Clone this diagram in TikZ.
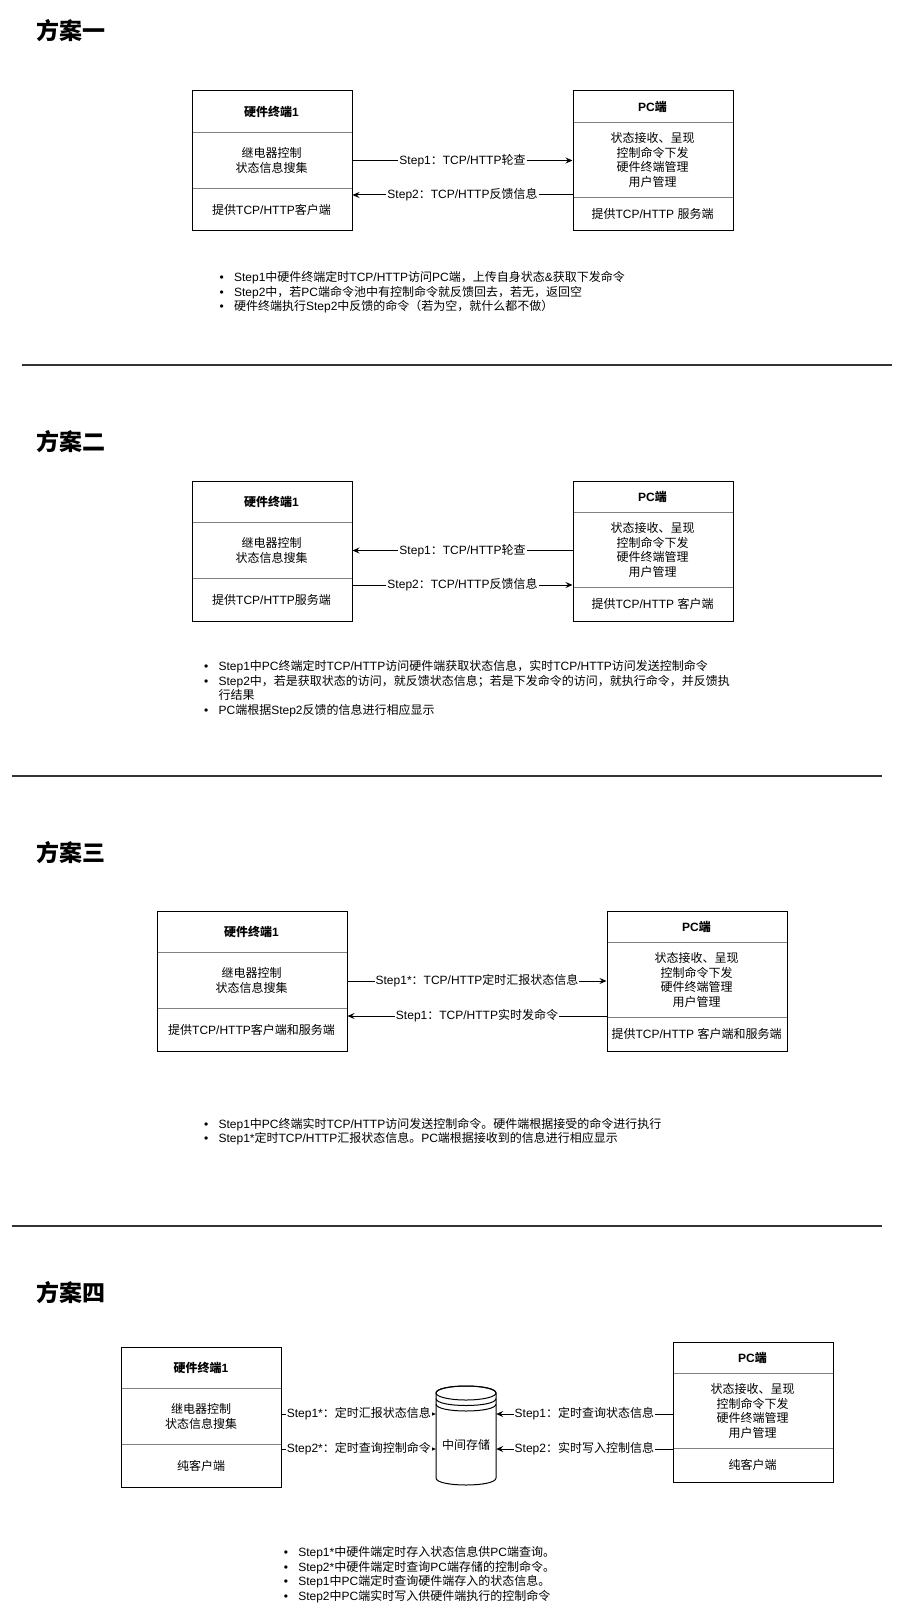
\documentclass[tikz,border=0pt]{standalone}
\usepackage{fontspec}
\usetikzlibrary{arrows.meta}
\setmainfont{Liberation Sans}
\newfontfamily\latfont{Liberation Sans}
\newfontfamily\cjkfont{Noto Sans CJK SC}
\XeTeXinterchartokenstate=1
\newXeTeXintercharclass\cjkcls
\makeatletter
\count@="4E00
\loop\XeTeXcharclass\count@=\cjkcls\ifnum\count@<"9FFF\advance\count@\@ne\repeat
\count@="3000
\loop\XeTeXcharclass\count@=\cjkcls\ifnum\count@<"303F\advance\count@\@ne\repeat
\count@="FF01
\loop\XeTeXcharclass\count@=\cjkcls\ifnum\count@<"FF5E\advance\count@\@ne\repeat
\makeatother
\XeTeXinterchartoks 0 \cjkcls = {\cjkfont}
\XeTeXinterchartoks 4095 \cjkcls = {\cjkfont}
\XeTeXinterchartoks \cjkcls 0 = {\latfont}
\XeTeXinterchartoks 4095 0 = {\latfont}
\newcommand\bul{\makebox[14.5pt][l]{•}}
\newcommand\tribox[8]{%
  \if#5L\def\hA{42}\def\hB{56}\else\def\hA{32}\def\hB{75}\fi
  \draw[divider] (#2,#3+\hA) -- (#2+#4,#3+\hA);
  \draw[divider] (#2,#3+\hA+\hB) -- (#2+#4,#3+\hA+\hB);
  \node[frame, minimum width=#4pt, minimum height=140pt] (#1) at (#2,#3) {};
  \node[hdr] (#1-h) at (#2+#4/2,#3+\hA/2) {#6};
  \node[txt] (#1-m) at (#2+#4/2,#3+\hA+\hB/2) {#7};
  \node[txt] (#1-b) at (#2+#4/2,{#3+\hA+\hB+(140-\hA-\hB)/2}) {#8};
}
\begin{document}
\begin{tikzpicture}[x=1pt,y=-1pt,
  txt/.style={font=\fontsize{12}{14.4}\selectfont, inner sep=0pt, align=center},
  hdr/.style={txt, font=\fontsize{12}{14.4}\selectfont\bfseries},
  frame/.style={draw=black, line width=1pt, rectangle, inner sep=0pt, anchor=north west},
  divider/.style={draw=black!50, line width=1pt},
  conn/.style={draw=black, line width=1pt, -{Stealth[length=7pt,width=6pt,inset=2.5pt]}},
  lbl/.style={txt, fill=white, inner sep=1pt},
  title/.style={font=\fontsize{23}{27}\selectfont\bfseries, inner sep=0pt, anchor=west},
  sep/.style={line width=2pt, draw=black!80},
  blist/.style={txt, align=left, anchor=north west},
  cyl/.style={draw=black, line width=1pt}
]
\fill[white] (0,0) rectangle (902,1621);
\useasboundingbox (0,0) rectangle (902,1621);

% ---------------- 方案一
\node[title] (t1) at (36,31) {方案一};
\tribox{hw1}{191.5}{90.5}{160}{L}{硬件终端1}{继电器控制\\状态信息搜集}{提供TCP/HTTP客户端}
\tribox{pc1}{572.5}{90.5}{160}{R}{PC端}{状态接收、呈现\\控制命令下发\\硬件终端管理\\用户管理}{提供TCP/HTTP 服务端}
\draw[conn] (hw1.east |- 0,160.5) -- (pc1.west |- 0,160.5) node[lbl, midway] {Step1：TCP/HTTP轮查};
\draw[conn] (pc1.west |- 0,195) -- (hw1.east |- 0,195) node[lbl, midway] {Step2：TCP/HTTP反馈信息};
\node[blist] (b1) at (219.4,271.4) {\bul Step1中硬件终端定时TCP/HTTP访问PC端，上传自身状态\&获取下发命令\\
\bul Step2中，若PC端命令池中有控制命令就反馈回去，若无，返回空\\
\bul 硬件终端执行Step2中反馈的命令（若为空，就什么都不做）};
\draw[sep] (21.5,365) -- (892,365);

% ---------------- 方案二
\node[title] (t2) at (36,442) {方案二};
\tribox{hw2}{191.5}{480.5}{160}{L}{硬件终端1}{继电器控制\\状态信息搜集}{提供TCP/HTTP服务端}
\tribox{pc2}{572.5}{480.5}{160}{R}{PC端}{状态接收、呈现\\控制命令下发\\硬件终端管理\\用户管理}{提供TCP/HTTP 客户端}
\draw[conn] (pc2.west |- 0,550.5) -- (hw2.east |- 0,550.5) node[lbl, midway] {Step1：TCP/HTTP轮查};
\draw[conn] (hw2.east |- 0,585) -- (pc2.west |- 0,585) node[lbl, midway] {Step2：TCP/HTTP反馈信息};
\node[blist] (b2) at (203.9,660.5) {\bul Step1中PC终端定时TCP/HTTP访问硬件端获取状态信息，实时TCP/HTTP访问发送控制命令\\
\bul Step2中，若是获取状态的访问，就反馈状态信息；若是下发命令的访问，就执行命令，并反馈执\\
\hspace*{14.5pt}行结果\\
\bul PC端根据Step2反馈的信息进行相应显示};
\draw[sep] (11.5,776) -- (882,776);

% ---------------- 方案三
\node[title] (t3) at (36,853) {方案三};
\tribox{hw3}{156.5}{910.5}{190}{L}{硬件终端1}{继电器控制\\状态信息搜集}{提供TCP/HTTP客户端和服务端}
\tribox{pc3}{606.5}{910.5}{180}{R}{PC端}{状态接收、呈现\\控制命令下发\\硬件终端管理\\用户管理}{提供TCP/HTTP 客户端和服务端}
\draw[conn] (hw3.east |- 0,981) -- (pc3.west |- 0,981) node[lbl, midway] {Step1*：TCP/HTTP定时汇报状态信息};
\draw[conn] (pc3.west |- 0,1016) -- (hw3.east |- 0,1016) node[lbl, midway] {Step1：TCP/HTTP实时发命令};
\node[blist] (b3) at (203.9,1118) {\bul Step1中PC终端实时TCP/HTTP访问发送控制命令。硬件端根据接受的命令进行执行\\
\bul Step1*定时TCP/HTTP汇报状态信息。PC端根据接收到的信息进行相应显示};
\draw[sep] (11.5,1226) -- (882,1226);

% ---------------- 方案四
\node[title] (t4) at (36,1292.5) {方案四};
\tribox{hw4}{121}{1346.5}{160}{L}{硬件终端1}{继电器控制\\状态信息搜集}{纯客户端}
\tribox{pc4}{672.5}{1341.5}{160}{R}{PC端}{状态接收、呈现\\控制命令下发\\硬件终端管理\\用户管理}{纯客户端}
% storage cylinder
\draw[cyl, fill=white] (436,1393) -- (436,1478) .. controls (436,1487.33) and (496,1487.33) .. (496,1478)
  -- (496,1393) .. controls (496,1383.67) and (436,1383.67) .. (436,1393) -- cycle;
\draw[cyl] (466,1393) ellipse [x radius=30, y radius=7];
\draw[cyl] (436,1398.5) .. controls (436,1407.83) and (496,1407.83) .. (496,1398.5);
\draw[cyl] (436,1404) .. controls (436,1413.33) and (496,1413.33) .. (496,1404);
\node[inner sep=0pt, minimum width=60pt, minimum height=99pt] (store) at (466,1435.5) {};
\node[txt] (storetxt) at (466,1445) {中间存储};
\draw[conn] (hw4.east |- 0,1414) -- (store.west |- 0,1414) node[lbl, midway] {Step1*：定时汇报状态信息};
\draw[conn] (hw4.east |- 0,1449) -- (store.west |- 0,1449) node[lbl, midway] {Step2*：定时查询控制命令};
\draw[conn] (pc4.west |- 0,1414) -- (store.east |- 0,1414) node[lbl, midway] {Step1：定时查询状态信息};
\draw[conn] (pc4.west |- 0,1449) -- (store.east |- 0,1449) node[lbl, midway] {Step2：实时写入控制信息};
\node[blist] (b4) at (283.6,1546.5) {\bul Step1*中硬件端定时存入状态信息供PC端查询。\\
\bul Step2*中硬件端定时查询PC端存储的控制命令。\\
\bul Step1中PC端定时查询硬件端存入的状态信息。\\
\bul Step2中PC端实时写入供硬件端执行的控制命令};
\end{tikzpicture}
\end{document}
